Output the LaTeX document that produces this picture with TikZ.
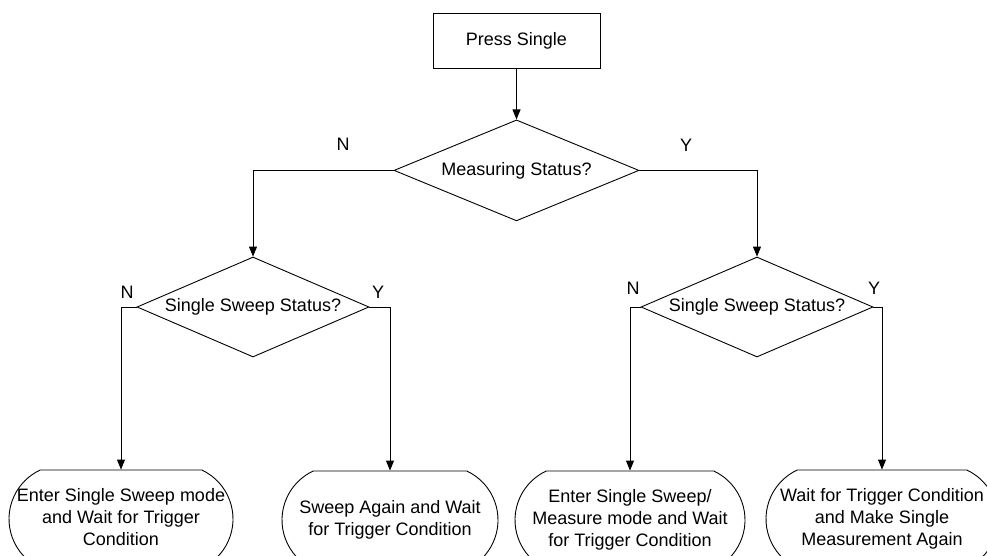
\documentclass[tikz,border=0pt]{standalone}
\usepackage{fontspec}
\setmainfont{Liberation Sans}
\usetikzlibrary{arrows.meta,positioning,shapes.geometric,shapes.misc}
\tikzset{
  startbox/.style={draw=black, rectangle, align=center, inner sep=0pt, minimum width=167pt, minimum height=55pt},
  decision/.style={diamond, draw=black, align=center, inner sep=0pt, aspect=2.4, minimum width=232pt, minimum height=100pt},
  terminal/.style={rounded rectangle, rounded rectangle arc length=130, draw=black, inner sep=0pt, minimum width=224pt, minimum height=98pt},
  arrow/.style={-{Triangle[length=10pt, width=8pt]}, line width=0.9pt, draw=black},
  branch/.style={inner sep=0pt}
}
\newcommand{\termtext}[1]{\makebox[0pt]{\begin{tabular}{@{}c@{}}#1\end{tabular}}}

\begin{document}
\begin{tikzpicture}[x=1pt, y=-1pt, font=\fontsize{18}{22}\selectfont, line width=0.9pt]
  \useasboundingbox (0,0) rectangle (987,556);
  \clip (0,0) rectangle (987,556);

  \node[startbox] (press) at (516.5,40.5) {Press Single};
  \node[decision, below=51pt of press, minimum width=245pt, minimum height=101pt] (measure) {Measuring Status?};
  \node[decision] (sweepL) at (253,307) {Single Sweep Status?};
  \node[decision] (sweepR) at (757,307) {Single Sweep Status?};

  \node[terminal] (enterL) at (121,519) {\termtext{Enter Single Sweep mode\\and Wait for Trigger\\Condition}};
  \node[terminal, minimum width=216pt] (againL) at (390,520) {\termtext{Sweep Again and Wait\\for Trigger Condition}};
  \node[terminal, minimum width=230pt] (enterR) at (630,520) {\termtext{Enter Single Sweep/\\Measure mode and Wait\\for Trigger Condition}};
  \node[terminal, minimum width=232pt] (againR) at (882,519) {\termtext{Wait for Trigger Condition\\and Make Single\\Measurement Again}};

  % branch labels
  \node[branch] (nMain) at (343,144) {N};
  \node[branch] (yMain) at (686,145) {Y};
  \node[branch] (nLeft) at (127,292) {N};
  \node[branch] (yLeft) at (378,292) {Y};
  \node[branch] (nRight) at (633,288) {N};
  \node[branch] (yRight) at (874,288) {Y};

  \draw[arrow] (press) -- (measure);
  \draw[arrow] (measure.west) -| (sweepL.north);
  \draw[arrow] (measure.east) -| (sweepR.north);
  \draw[arrow] (sweepL.west) -| (enterL.north);
  \draw[arrow] (sweepL.east) -| (againL.north);
  \draw[arrow] (sweepR.west) -| (enterR.north);
  \draw[arrow] (sweepR.east) -| (againR.north);
\end{tikzpicture}
\end{document}
